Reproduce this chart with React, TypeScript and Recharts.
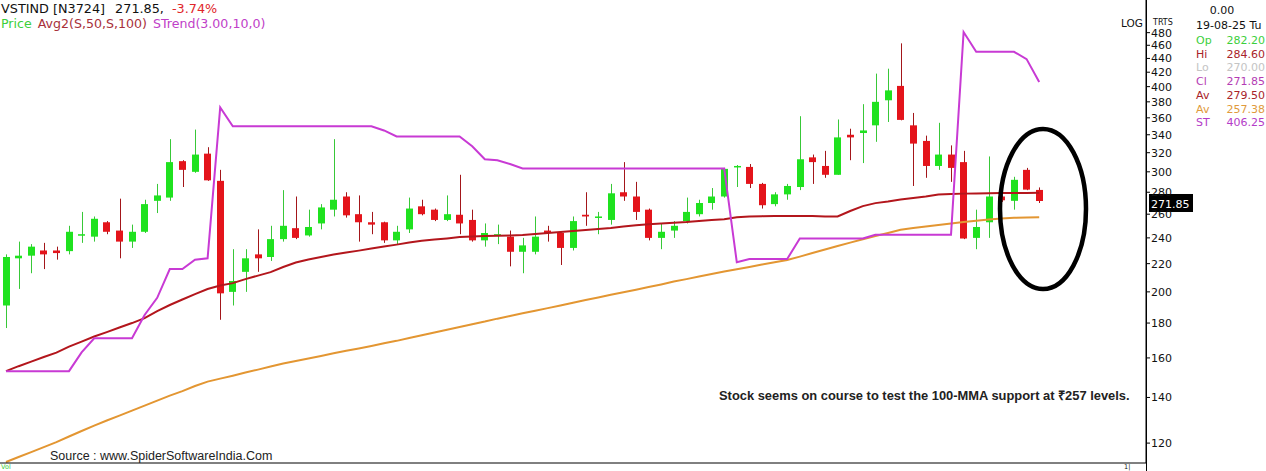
import React from 'react';
import { ComposedChart, Bar, Line, XAxis, YAxis, ReferenceLine } from 'recharts';

// daily candles (last one matches the data panel)
const opens = [
  191, 224, 226, 230, 230, 229.5, 242, 241, 253, 246,
  237, 245, 272, 275, 311, 300, 319, 291, 200, 214,
  227, 225, 239, 248, 242, 252, 264, 276, 260, 253,
  253, 238, 247, 267, 264, 255, 259.5, 255, 238, 242,
  241, 229, 229, 246, 244, 232, 259.5, 257, 255, 280,
  276, 264, 240, 246, 254, 260, 270, 276, 305, 305,
  288, 269, 278, 285, 315, 306, 297, 340, 342, 351,
  382, 401, 351, 333, 306, 318, 310, 240, 253, 276,
  272, 302, 282.2,
];
const highs = [
  227, 237, 235, 236, 233, 250, 262, 258, 254, 274,
  251, 273, 288, 335, 312, 346, 326, 302, 231, 231,
  247, 250, 282, 276, 264, 269, 335, 280, 277, 262,
  253.5, 250, 275, 273, 265, 277, 297, 264, 252, 251,
  246, 240, 258, 250, 244.5, 258, 280, 262, 288, 310,
  290, 265, 252, 254, 275, 273, 284, 304, 307, 308,
  289, 280, 288, 362, 318, 322, 358, 347, 377, 418,
  425, 463, 366, 339, 354, 328, 322, 264, 316, 277,
  295, 304, 284.6,
];
const lows = [
  177, 202, 213, 216, 223, 227, 236, 237, 243, 224,
  232, 244, 261, 272, 285, 299, 291, 182, 191, 200,
  214, 222, 237, 239, 241, 247, 258, 257, 237, 243,
  236, 235, 244, 259, 254, 254, 243, 237, 233, 235,
  218, 213, 227, 237, 219, 230, 250, 243, 251, 272,
  255, 238, 231, 240, 252, 258, 264, 275, 285, 284,
  265, 267, 273, 282, 288, 294, 297, 312, 309, 332,
  355, 357, 286, 294, 302, 290, 239, 231, 240, 271,
  264, 282, 270,
];
const closes = [
  225, 226, 233, 227, 228, 245, 243, 256, 245, 237,
  245, 269, 277, 310, 302, 318, 291.5, 199, 207.5, 224,
  224, 239, 250, 240, 249, 266, 273, 259, 253, 251,
  238, 245, 265, 260, 255, 260, 252, 238, 244, 243,
  229, 234, 241, 244, 232, 254, 258, 258, 279, 276,
  262, 240, 245, 250, 262, 270, 276, 303, 306, 288,
  268, 278, 286, 313, 310, 297, 337, 337, 345, 380,
  395, 357.5, 330, 306, 318, 304, 239.5, 249, 276, 272.5,
  292, 282.5, 271.85,
];

// 50-day average
const avg50 = [
  153.0, 155.6, 158, 160.5, 162.9, 166.2, 169.1, 172, 174.6, 177.3,
  180, 183, 187.4, 191.3, 194.9, 198.5, 201.9, 204.3, 206, 208.8,
  211.3, 213.8, 217.5, 220.8, 223.1, 225, 226.9, 228.4, 229.9, 231.5,
  233.1, 234.6, 236.2, 237.6, 238.6, 239.6, 240.7, 241.1, 241.5, 241.7,
  241.9, 242.3, 243.1, 244, 244.8, 245.6, 246.5, 247.4, 248.2, 249.5,
  250.5, 251.3, 252, 252.6, 253.2, 254.1, 255, 255.5, 257.3, 258,
  258.3, 258.5, 258.5, 258.5, 258.5, 258, 258, 262.8, 267.2, 269.9,
  271.3, 273.2, 274.6, 276, 277.8, 278.4, 278.7, 278.9, 279.1, 279.2,
  279.3, 279.4, 279.5,
];

// 100-day average
const avg100 = [
  112.6, 114.5, 116.4, 118.4, 120.4, 122.7, 125, 127.3, 129.5, 131.7,
  133.9, 136.2, 138.5, 140.9, 143, 145.5, 147.7, 149.2, 150.7, 152.3,
  153.8, 155.4, 157, 158.4, 159.7, 161.1, 162.5, 163.9, 165.2, 166.6,
  168.1, 169.5, 171.1, 172.7, 174.3, 176, 177.6, 179.3, 180.9, 182.7,
  184.3, 186, 187.7, 189.3, 191, 192.8, 194.6, 196.2, 198, 199.7,
  201.5, 203.3, 205.1, 207.1, 208.8, 210.6, 212.4, 214.2, 215.9, 217.5,
  219.3, 221, 222.7, 225.3, 228, 230.7, 233.5, 236.2, 238.9, 241.5,
  244, 246.6, 248.1, 249.4, 250.6, 251.9, 253.2, 254.3, 255.3, 256.2,
  256.8, 257.1, 257.38,
];

// supertrend (3.00, 10)
const strend = [
  153, 153, 153, 153, 153, 153, 163, 171, 171, 171,
  171, 185, 196, 216, 216, 223, 224, 373, 350, 350,
  350, 350, 350, 350, 350, 350, 350, 350, 350, 350,
  345, 338, 338, 338, 338, 338, 338, 327, 313, 312,
  308, 303.5, 303.5, 303.5, 303.5, 303.5, 303.5, 303.5, 303.5, 303.5,
  303.5, 303.5, 303.5, 303.5, 303.5, 303.5, 303.5, 303.5, 221, 223.5,
  223.5, 223.5, 223.5, 239.5, 239.5, 239.5, 239.5, 239.5, 239.5, 242.5,
  242.5, 242.5, 242.5, 242.5, 242.5, 242.5, 481, 450, 450, 450,
  450, 439, 406.25,
];

const priceTicks = [120, 140, 160, 180, 200, 220, 240, 260, 280, 300, 320, 340, 360, 380, 400, 420, 440, 460, 480];

const panelRows = [
  { label: 'Op', value: '282.20', color: '#3ccf3c' },
  { label: 'Hi', value: '284.60', color: '#a8232a' },
  { label: 'Lo', value: '270.00', color: '#c4c4c4' },
  { label: 'Cl', value: '271.85', color: '#b43cb4' },
  { label: 'Av', value: '279.50', color: '#a8232a' },
  { label: 'Av', value: '257.38', color: '#e09a3c' },
  { label: 'ST', value: '406.25', color: '#b43cc8' },
];

const data = opens.map((open, i) => ({
  i,
  open,
  high: highs[i],
  low: lows[i],
  close: closes[i],
  range: [lows[i], highs[i]],
  avg50: avg50[i],
  avg100: avg100[i],
  strend: strend[i],
}));

const FONT = '"DejaVu Sans", Verdana, sans-serif';
const NOTE_FONT = '"Liberation Sans", Arial, sans-serif';

// the bar gives the high-low span; open/close are placed on the same log scale
const Candle = (props: any) => {
  const { x, y, width, height, payload } = props;
  if (!payload) return null;
  const top = Math.min(y, y + height);
  const span = Math.abs(height);
  const lh = Math.log(payload.high);
  const ll = Math.log(payload.low);
  const toY = (v: number) => top + (span * (lh - Math.log(v))) / (lh - ll);
  const up = payload.close >= payload.open;
  const cx = Math.round(x + width / 2) + 0.5;
  const bodyTop = toY(Math.max(payload.open, payload.close));
  const bodyBot = toY(Math.min(payload.open, payload.close));
  return (
    <g>
      <line x1={cx} x2={cx} y1={top} y2={top + span} stroke={up ? '#38c838' : '#a3161a'} strokeWidth={1} />
      <rect
        x={Math.round(x)}
        y={bodyTop}
        width={width}
        height={Math.max(1.5, bodyBot - bodyTop)}
        fill={up ? '#1fe21f' : '#e4141b'}
      />
    </g>
  );
};

const PriceTag = (props: any) => {
  const vb = props.viewBox || {};
  const x = vb.x + vb.width + 3;
  const y = vb.y;
  return (
    <g>
      <rect x={x} y={y - 7} width={44} height={18} fill="#000" />
      <text x={x + 2} y={y + 7} fill="#fff" fontSize={11} fontFamily={FONT}>
        271.85
      </text>
    </g>
  );
};

export default function App() {
  return (
    <div style={{ position: 'relative', width: 1266, height: 471, overflow: 'hidden', background: '#fff' }}>
      <style>{`body { margin: 0; }`}</style>
      <ComposedChart width={1266} height={471} data={data} margin={{ top: 0, right: 0, bottom: 0, left: 0 }}>
        <XAxis
          type="number"
          dataKey="i"
          domain={[-0.476, 90.476]}
          allowDataOverflow
          tick={false}
          tickLine={false}
          height={8}
          axisLine={{ stroke: '#000' }}
        />
        <YAxis
          orientation="right"
          scale="log"
          domain={[112.2, 536]}
          allowDataOverflow
          ticks={priceTicks}
          interval={0}
          width={120}
          tickSize={4}
          tickMargin={1}
          axisLine={{ stroke: '#000' }}
          tickLine={{ stroke: '#000' }}
          tick={{ fill: '#111', fontSize: 11, fontFamily: FONT, textAnchor: 'start' }}
        />
        <Bar dataKey="range" barSize={7} shape={<Candle />} isAnimationActive={false} />
        <Line type="linear" dataKey="avg100" stroke="#e39632" strokeWidth={2} dot={false} activeDot={false} isAnimationActive={false} />
        <Line type="linear" dataKey="avg50" stroke="#b3161c" strokeWidth={2} dot={false} activeDot={false} isAnimationActive={false} />
        <Line type="linear" dataKey="strend" stroke="#c83ad4" strokeWidth={2} dot={false} activeDot={false} isAnimationActive={false} />
        <ReferenceLine y={271.85} stroke="none" label={<PriceTag />} />
      </ComposedChart>

      <svg
        width={1266}
        height={471}
        style={{ position: 'absolute', left: 0, top: 0, pointerEvents: 'none' }}
        fontFamily={FONT}
      >
        <text x={1} y={13} fontSize={12.8} fill="#111">
          VSTIND [N3724]
          <tspan dx={10}>271.85,</tspan>
          <tspan dx={8} fill="#e0262b">-3.74%</tspan>
        </text>
        <text x={1} y={28} fontSize={12.6}>
          <tspan fill="#3ccf3c">Price</tspan>
          <tspan dx={6} fill="#a8303a">Avg2(S,50,S,100)</tspan>
          <tspan dx={6} fill="#c040c8">STrend(3.00,10,0)</tspan>
        </text>

        <text x={1121} y={27} fontSize={10.5} fill="#111">LOG</text>
        <text x={1153} y={25} fontSize={8} fill="#111">TRTS</text>
        <line x1={1146.5} x2={1146.5} y1={0} y2={471} stroke="#000" />

        <text x={1222} y={14} fontSize={11} fill="#111" textAnchor="middle">0.00</text>
        <text x={1196} y={29} fontSize={11} fill="#111">19-08-25 Tu</text>
        {panelRows.map((r, k) => (
          <g key={k}>
            <text x={1196} y={44 + k * 13.7} fontSize={11} fill={r.color}>{r.label}</text>
            <text x={1265} y={44 + k * 13.7} fontSize={11} fill={r.color} textAnchor="end">{r.value}</text>
          </g>
        ))}

        <ellipse cx={1043} cy={209} rx={43} ry={80} fill="none" stroke="#000" strokeWidth={4.5} />

        <text x={719} y={400} fontSize={12.9} fontWeight="bold" fill="#222" fontFamily={NOTE_FONT}>
          Stock seems on course to test the 100-MMA support at ₹257 levels.
        </text>
        <text x={50} y={460} fontSize={12.5} fill="#222" fontFamily={NOTE_FONT}>
          Source : www.SpiderSoftwareIndia.Com
        </text>
        <text x={1} y={468.5} fontSize={6.5} fill="#3ccf3c">Vol</text>
        <text x={1124} y={468.5} fontSize={6.5} fill="#111">1|</text>
      </svg>
    </div>
  );
}
